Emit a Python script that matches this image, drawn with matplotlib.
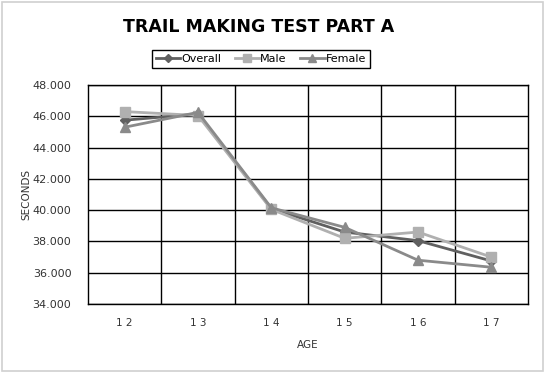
import matplotlib
matplotlib.use("Agg")
import matplotlib.pyplot as plt
from matplotlib.patches import Rectangle
from matplotlib.ticker import FuncFormatter, MultipleLocator, FixedLocator

ages = ["12", "13", "14", "15", "16", "17"]
overall = [45.75, 46.15, 40.10, 38.60, 38.05, 36.75]
male = [46.30, 46.05, 40.05, 38.20, 38.60, 37.00]
female = [45.30, 46.25, 40.15, 38.90, 36.80, 36.35]

fig = plt.figure(figsize=(5.45, 3.73), dpi=100)
fig.patches.append(Rectangle((0.004, 0.006), 0.992, 0.988, transform=fig.transFigure,
                             fill=False, edgecolor="#d0d0d0", linewidth=1.2))
ax = fig.add_axes([88/545, 1-304/373, 440/545, 219/373])

x = list(range(len(ages)))
l1, = ax.plot(x, overall, color="#606060", marker="D", markersize=5, linewidth=2, label="Overall")
l2, = ax.plot(x, male, color="#b0b0b0", marker="s", markersize=7, linewidth=2, label="Male")
l3, = ax.plot(x, female, color="#8a8a8a", marker="^", markersize=7, linewidth=2, label="Female")

ax.set_xlim(-0.5, len(ages)-0.5)
ax.set_ylim(34, 48)
ax.yaxis.set_major_locator(MultipleLocator(2))
ax.yaxis.set_major_formatter(FuncFormatter(lambda v, p: f"{v:.3f}"))
ax.set_xticks(x)
ax.set_xticklabels([" ".join(a) for a in ages])
ax.xaxis.set_minor_locator(FixedLocator([i + 0.5 for i in range(len(ages)-1)]))
ax.grid(True, which="major", axis="y", color="black", linewidth=1)
ax.grid(True, which="minor", axis="x", color="black", linewidth=1)
ax.tick_params(which="both", length=0)
ax.tick_params(axis="y", labelsize=8, pad=12, colors="#333333")
ax.tick_params(axis="x", labelsize=7.5, pad=10, colors="#333333")
for s in ax.spines.values():
    s.set_color("black")
    s.set_linewidth(1)
ax.set_axisbelow(True)

ax.set_ylabel("SECONDS", fontsize=7.5, color="#333333", labelpad=1)
ax.set_xlabel("AGE", fontsize=7.5, color="#333333", labelpad=9)

fig.text(259/545, 1-27/373, "TRAIL MAKING TEST PART A", ha="center", va="center",
         fontsize=12.5, fontweight="bold", family="DejaVu Sans")

leg = fig.legend(handles=[l1, l2, l3], loc="center", bbox_to_anchor=(261/545, 1-59/373),
                 ncol=3, fontsize=8, frameon=True, fancybox=False, edgecolor="black",
                 handlelength=2.2, handletextpad=0.1, columnspacing=1.2, borderpad=0.35,
                 framealpha=1, markerscale=0.85)
leg.get_frame().set_linewidth(1)

fig.savefig("out.png", dpi=100)
